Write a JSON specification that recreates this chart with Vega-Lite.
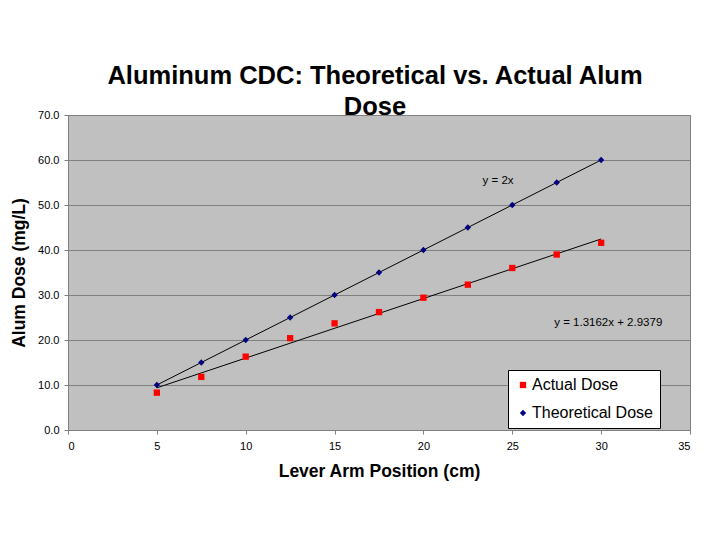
{
  "$schema": "https://vega.github.io/schema/vega-lite/v6.json",
  "autosize": {"type": "none"},
  "width": 622,
  "height": 315,
  "padding": {"left": 68, "top": 115, "right": 30, "bottom": 110},
  "background": "white",
  "title": {
    "text": ["Aluminum CDC: Theoretical vs. Actual Alum", "Dose"],
    "font": "Liberation Sans",
    "fontSize": 25.5,
    "fontWeight": "bold",
    "color": "black",
    "anchor": "middle",
    "baseline": "alphabetic",
    "lineHeight": 31,
    "offset": 0,
    "dx": -4,
    "dy": 31
  },
  "config": {
    "font": "Liberation Sans",
    "view": {"fill": "#C0C0C0", "stroke": "#808080", "strokeWidth": 1},
    "axis": {
      "labelFont": "Liberation Sans",
      "labelFontSize": 11,
      "labelColor": "black",
      "titleFont": "Liberation Sans",
      "titleFontSize": 17.5,
      "titleFontWeight": "bold",
      "titleColor": "black",
      "domainColor": "#808080",
      "tickColor": "#808080",
      "tickSize": 4
    }
  },
  "datasets": {
    "dose": [
      {"x": 5, "dose": 8.3, "series": "Actual Dose"},
      {"x": 7.5, "dose": 11.8, "series": "Actual Dose"},
      {"x": 10, "dose": 16.3, "series": "Actual Dose"},
      {"x": 12.5, "dose": 20.4, "series": "Actual Dose"},
      {"x": 15, "dose": 23.7, "series": "Actual Dose"},
      {"x": 17.5, "dose": 26.2, "series": "Actual Dose"},
      {"x": 20, "dose": 29.4, "series": "Actual Dose"},
      {"x": 22.5, "dose": 32.3, "series": "Actual Dose"},
      {"x": 25, "dose": 36.0, "series": "Actual Dose"},
      {"x": 27.5, "dose": 39.0, "series": "Actual Dose"},
      {"x": 30, "dose": 41.6, "series": "Actual Dose"},
      {"x": 5, "dose": 10, "series": "Theoretical Dose"},
      {"x": 7.5, "dose": 15, "series": "Theoretical Dose"},
      {"x": 10, "dose": 20, "series": "Theoretical Dose"},
      {"x": 12.5, "dose": 25, "series": "Theoretical Dose"},
      {"x": 15, "dose": 30, "series": "Theoretical Dose"},
      {"x": 17.5, "dose": 35, "series": "Theoretical Dose"},
      {"x": 20, "dose": 40, "series": "Theoretical Dose"},
      {"x": 22.5, "dose": 45, "series": "Theoretical Dose"},
      {"x": 25, "dose": 50, "series": "Theoretical Dose"},
      {"x": 27.5, "dose": 55, "series": "Theoretical Dose"},
      {"x": 30, "dose": 60, "series": "Theoretical Dose"}
    ],
    "notes": [
      {"x": 24.2, "dose": 55.3, "label": "y = 2x"},
      {"x": 30.4, "dose": 23.8, "label": "y = 1.3162x + 2.9379"}
    ]
  },
  "data": {"name": "dose"},
  "encoding": {
    "x": {
      "field": "x",
      "type": "quantitative",
      "title": "Lever Arm Position (cm)",
      "scale": {"domain": [0, 35], "nice": false},
      "axis": {"values": [0, 5, 10, 15, 20, 25, 30, 35], "grid": false, "labelPadding": 6, "titlePadding": 11}
    },
    "y": {
      "field": "dose",
      "type": "quantitative",
      "title": "Alum Dose (mg/L)",
      "scale": {"domain": [0, 70], "nice": false},
      "axis": {"values": [0, 10, 20, 30, 40, 50, 60, 70], "format": ".1f", "grid": true, "gridColor": "#808080", "gridOpacity": 1, "labelPadding": 5, "titlePadding": 9}
    }
  },
  "layer": [
    {
      "transform": [{"filter": "datum.series === 'Theoretical Dose'"}],
      "mark": {"type": "line", "color": "black", "strokeWidth": 1}
    },
    {
      "transform": [
        {"filter": "datum.series === 'Actual Dose'"},
        {"regression": "dose", "on": "x", "extent": [5, 30]}
      ],
      "mark": {"type": "line", "color": "black", "strokeWidth": 1}
    },
    {
      "mark": {"type": "point", "filled": true, "opacity": 1, "size": 40},
      "encoding": {
        "color": {
          "field": "series",
          "type": "nominal",
          "scale": {"domain": ["Actual Dose", "Theoretical Dose"], "range": ["#FF0000", "#000080"]},
          "legend": {
            "title": null,
            "orient": "none",
            "legendX": 440,
            "legendY": 255,
            "fillColor": "white",
            "strokeColor": "black",
            "padding": 7,
            "rowPadding": 12,
            "labelFont": "Liberation Sans",
            "labelFontSize": 16,
            "labelColor": "black",
            "symbolSize": 40,
            "labelOffset": 1
          }
        },
        "shape": {
          "field": "series",
          "type": "nominal",
          "scale": {"domain": ["Actual Dose", "Theoretical Dose"], "range": ["square", "diamond"]},
          "legend": {
            "title": null,
            "orient": "none",
            "legendX": 440,
            "legendY": 255,
            "fillColor": "white",
            "strokeColor": "black",
            "padding": 7,
            "rowPadding": 12,
            "labelFont": "Liberation Sans",
            "labelFontSize": 16,
            "labelColor": "black",
            "symbolSize": 40,
            "labelOffset": 1
          }
        }
      }
    },
    {
      "data": {"name": "notes"},
      "mark": {"type": "text", "font": "Liberation Sans", "fontSize": 11.5, "color": "black"},
      "encoding": {
        "text": {"field": "label"}
      }
    }
  ]
}
